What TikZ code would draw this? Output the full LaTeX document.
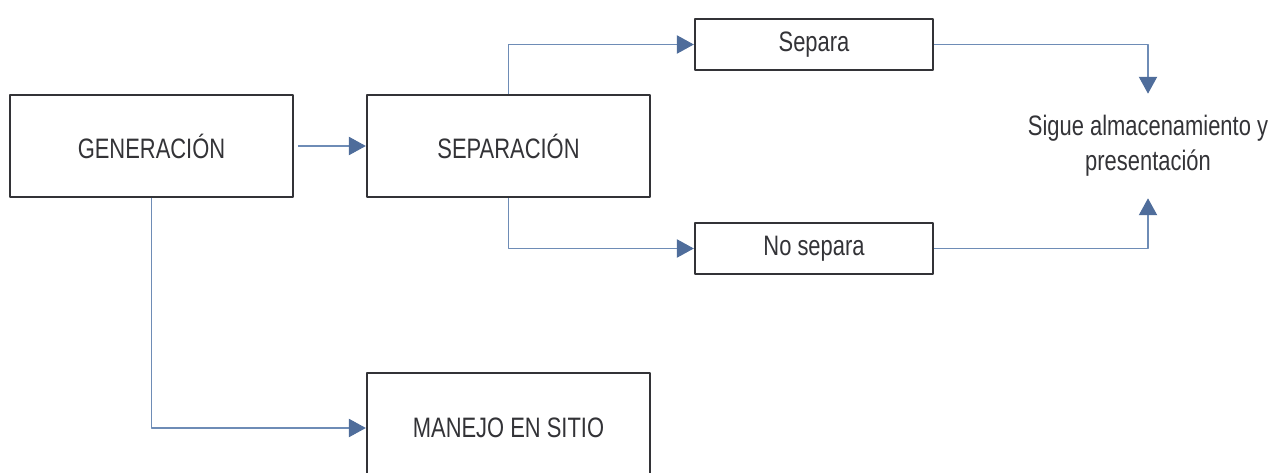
\documentclass[tikz,border=0pt]{standalone}
\usepackage{fontspec}
\setmainfont{Liberation Sans}[FakeStretch=0.78]
\usepackage{tikz}
\usetikzlibrary{arrows.meta}
\usetikzlibrary{positioning}

\definecolor{boxline}{RGB}{51,51,55}
\definecolor{linkline}{RGB}{110,140,182}
\definecolor{tipfill}{RGB}{79,109,155}

\tikzset{
  stagebox/.style={draw=boxline, line width=1.4pt, fill=white, text=boxline, inner sep=0pt,
    minimum width=5.66cm, minimum height=2.04cm, font=\fontsize{16}{19}\selectfont},
  choicebox/.style={stagebox, minimum width=4.76cm, minimum height=1.02cm},
  link/.style={draw=linkline, line width=0.6pt,
    -{Triangle[length=9.6pt, width=10.4pt, color=tipfill, fill=tipfill]}}
}

\begin{document}
\begin{tikzpicture}[x=0.02cm, y=-0.02cm, line join = round]

\useasboundingbox (0,0) rectangle (1271,473);

% main stages
\node[stagebox] (gen) at (151.5,146) {GENERACIÓN}; % origin
\node[stagebox] (sep) at (508.5,146) {SEPARACIÓN};
\node[stagebox, minimum height=2.2cm] (manejo) at (508.5,428) {MANEJO EN SITIO}; % cut by page edge

% choices after separation
\node[choicebox] (separa) at (814,44.5) {Separa};
\node[choicebox] (nosepara) at (814,248.5) {No separa};

% end text
\node[text=boxline, align=center, inner sep=0pt, minimum height=2.08cm,
  font=\fontsize{16}{19.8}\selectfont] (sigue) at (1148,146) {Sigue almacenamiento y\\presentación};

% connectors
\draw[link, shorten <=2.3pt] (gen.east) -- (sep.west);
\draw[link] (sep.north) |- (separa.west);
\draw[link] (sep.south) |- (nosepara.west);
\draw[link] (separa.east) -| (sigue.north);
\draw[link] (nosepara.east) -| (sigue.south);
\draw[link] (gen.south) |- (manejo.west);

\end{tikzpicture}
\end{document}
